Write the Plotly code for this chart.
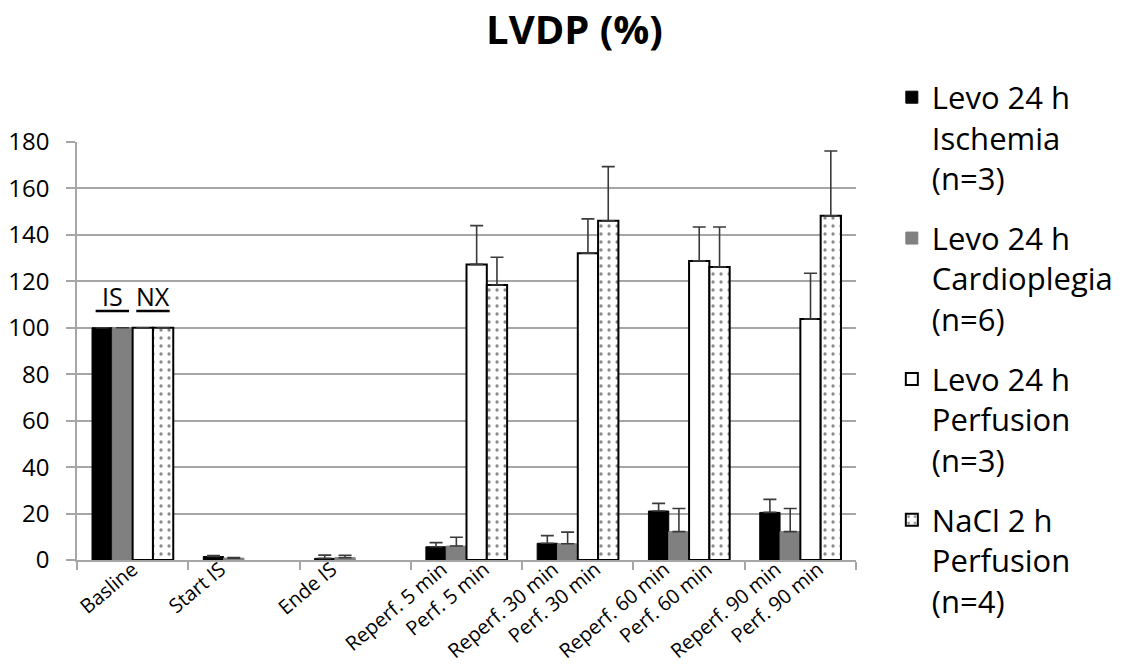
import plotly.graph_objects as go

# ---------------- data ----------------
categories = ["Basline", "Start IS", "Ende IS", "5 min", "30 min", "60 min", "90 min"]

tick_labels = [
    ["Basline"],
    ["Start IS"],
    ["Ende IS"],
    ["Reperf. 5 min", "Perf. 5 min"],
    ["Reperf. 30 min", "Perf. 30 min"],
    ["Reperf. 60 min", "Perf. 60 min"],
    ["Reperf. 90 min", "Perf. 90 min"],
]

series_names = [
    "Levo 24 h<br>Ischemia<br>(n=3)",
    "Levo 24 h<br>Cardioplegia<br>(n=6)",
    "Levo 24 h<br>Perfusion<br>(n=3)",
    "NaCl 2 h<br>Perfusion<br>(n=4)",
]

ischemia = [100, 1.5, 0.7, 5.7, 7.2, 21.1, 20.5]
ischemia_err = [0, 0.4, 1.4, 1.8, 3.3, 3.3, 5.6]

cardioplegia = [100, 0.8, 1.0, 6.0, 7.0, 12.2, 12.2]
cardioplegia_err = [0, 0.3, 1.0, 3.8, 5.0, 10.0, 10.0]

levo_perfusion = [100, None, None, 127.3, 132.1, 128.8, 103.8]
levo_perfusion_err = [0, None, None, 16.7, 14.8, 14.6, 19.7]

nacl_perfusion = [100, None, None, 118.4, 146.1, 126.2, 148.2]
nacl_perfusion_err = [0, None, None, 12.0, 23.3, 17.2, 27.9]

group_labels = ["IS", "NX"]

# ---------------- style ----------------
FONT = "Open Sans"
GRID = "#a6a6a6"
ERR = "#3a3a3a"

fig = go.Figure()

values = [ischemia, cardioplegia, levo_perfusion, nacl_perfusion]
errors = [ischemia_err, cardioplegia_err, levo_perfusion_err, nacl_perfusion_err]
fills = ["#000000", "#808080", "#ffffff", "#ffffff"]
lines = ["#000000", "#808080", "#000000", "#000000"]
line_w = [1, 1, 2, 2]

for k in range(4):
    marker = dict(color=fills[k], line=dict(color=lines[k], width=line_w[k]))
    if k == 3:
        marker["pattern"] = dict(shape=".", fgcolor="#111111", bgcolor="#ffffff",
                                 size=8, solidity=0.13, fillmode="overlay")
    fig.add_trace(go.Bar(
        x=categories, y=values[k], name=series_names[k],
        legendgroup="g%d" % k,
        marker=marker,
        error_y=dict(type="data", array=errors[k], symmetric=False,
                     arrayminus=[0] * len(errors[k]),
                     color=ERR, thickness=1.6, width=6.5),
        hoverinfo="skip",
    ))

# tick label positions on an overlaid numeric axis (label ends near the reference spots)
single_offsets = [0.0, -0.21, -0.21]
pair_offsets = (-0.22, 0.16)
tickvals, ticktext = [], []
for i, labs in enumerate(tick_labels):
    if len(labs) == 1:
        tickvals.append(i + single_offsets[i])
        ticktext.append(labs[0])
    else:
        for lab, off in zip(labs, pair_offsets):
            tickvals.append(i + off)
            ticktext.append(lab)

# dummy invisible trace so xaxis2 is rendered
fig.add_trace(go.Scatter(x=[0], y=[0], xaxis="x2", yaxis="y", mode="markers",
                         marker=dict(opacity=0), showlegend=False, hoverinfo="skip"))

# IS / NX labels over the baseline bars
bw = 0.73 / 4
for j, lab in enumerate(group_labels):
    cx = (-1 if j == 0 else 1) * bw
    fig.add_annotation(x=cx, y=113.5, xref="x2", yref="y", text=lab, showarrow=False,
                       font=dict(family=FONT, size=25, color="black"))
    fig.add_shape(type="line", xref="x2", yref="y",
                  x0=cx - 0.15, x1=cx + 0.15, y0=107.2, y1=107.2,
                  line=dict(color="black", width=2.5))

# the page body adds an 8px offset; figure sized so it fits the window
fig.update_layout(
    width=1115, height=661,
    margin=dict(l=69, r=267, t=134, b=109, autoexpand=False),
    paper_bgcolor="white", plot_bgcolor="white",
    barmode="group", bargap=0.27, bargroupgap=0,
    font=dict(family=FONT, color="black"),
    title=dict(text="<b>LVDP (%)</b>", x=0.6386, xanchor="center", xref="paper",
               y=0.966, yanchor="middle", yref="container",
               font=dict(family=FONT, size=40, color="black")),
    showlegend=True,
    legend=dict(x=1.046, xanchor="left", y=1.171, yanchor="top",
                font=dict(family=FONT, size=31, color="black"),
                valign="top", tracegroupgap=17, bgcolor="rgba(0,0,0,0)",
                maxheight=650),
    xaxis=dict(type="category", showticklabels=False, ticks="outside",
               tickson="boundaries", ticklen=8, tickcolor=GRID, tickwidth=1.5,
               showline=True, linecolor=GRID, linewidth=1.5, showgrid=False,
               range=[-0.5, 6.5], automargin=False),
    xaxis2=dict(overlaying="x", side="bottom", anchor="y", range=[-0.5, 6.5],
                showgrid=False, zeroline=False, showline=False, ticks="",
                tickvals=tickvals, ticktext=ticktext, tickangle=-40, automargin=False,
                ticklabelstandoff=-7,
                tickfont=dict(family=FONT, size=20, color="black")),
    yaxis=dict(range=[0, 180], dtick=20, showgrid=True, gridcolor=GRID, gridwidth=1.5,
               showline=True, linecolor=GRID, linewidth=1.5, zeroline=False,
               ticks="outside", ticklen=9, tickcolor=GRID, tickwidth=1.5,
               ticklabelstandoff=12, automargin=False,
               tickfont=dict(family=FONT, size=24, color="black")),
)

fig.write_html("out.html")
